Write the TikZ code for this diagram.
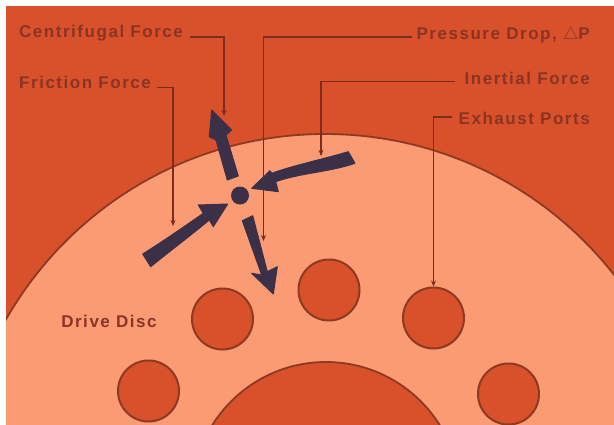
\documentclass[tikz,border=0pt]{standalone}
\usepackage{fontspec}
\setmainfont[LetterSpace=9]{Liberation Sans}
\usetikzlibrary{arrows.meta}
\definecolor{redbg}{HTML}{D9512B}
\definecolor{discfill}{HTML}{FA9B73}
\definecolor{edgecol}{HTML}{8C3A22}
\definecolor{leadcol}{HTML}{7A2C1E}
\definecolor{forcecol}{HTML}{3B3047}
\definecolor{labelcol}{HTML}{8A3424}
\tikzset{
  port/.style={circle,draw=edgecol,fill=redbg,line width=2pt,minimum size=61pt,inner sep=0pt},
  lbl/.style={inner sep=0pt,text=labelcol,font=\fontsize{17}{19}\selectfont\bfseries},
  leader/.style={draw=leadcol,line width=1.5pt,-{Stealth[length=6pt,width=5pt]}},
  force/.style={fill=forcecol,draw=forcecol,line width=1pt,line join=round},
  rim/.style={draw=edgecol,line width=1.8pt,fill=discfill}
}
\begin{document}
\begin{tikzpicture}[x=1pt,y=-1pt]
\useasboundingbox (0,0) rectangle (614,424);
\fill[white] (0,0) rectangle (614,424);
\begin{scope}
\clip (6,6) rectangle (614,424);
\fill[redbg] (6,6) rectangle (614,424);
\draw[rim] (325,501) circle[radius=367];
\draw[edgecol,line width=1.8pt,fill=redbg] (326,496) circle[radius=134];
\end{scope}
\node[port] (p1) at (222.5,319) {};
\node[port] (p2) at (148.5,391) {};
\node[port] (p3) at (329,290) {};
\node[port] (p4) at (433.5,318) {};
\node[port] (p5) at (508.5,394) {};
\node[circle,fill=forcecol,minimum size=18pt,inner sep=0pt] (dot) at (240,195.5) {};
% leader ends
\coordinate (cfend) at (224,116);
\coordinate (ffend) at (173,226);
\coordinate (pdend) at (263.5,241);
\coordinate (infend) at (321,156);
% labels
\node[lbl,anchor=west] (cf) at (19,33) {Centrifugal Force};
\node[lbl,anchor=west] (ff) at (19,82) {Friction Force};
\node[lbl,anchor=east] (pd) at (590,35) {Pressure Drop, $\triangle$P};
\node[lbl,anchor=east] (inf) at (590,78) {Inertial Force};
\node[lbl,anchor=east] (ep) at (590,118) {Exhaust Ports};
\node[lbl,anchor=center] (dd) at (109,321) {Drive Disc};
% leaders
\draw[leader] ([shift={(7,4)}]cf.east) -| (cfend);
\draw[leader] ([shift={(6,5.5)}]ff.east) -| (ffend);
\draw[leader] ([shift={(-4,2)}]pd.west) -| (pdend);
\draw[leader] ([shift={(-9,3.5)}]inf.west) -| (infend);
\draw[leader] ([shift={(-6,-1)}]ep.west) -| (p4.north);
% force arrows
\draw[force] (227.3,180) -- (216,140) -- (209.3,136.7) -- (211.7,110) -- (231.7,130) -- (226,135) -- (238.3,176) -- cycle;
\draw[force] (348.3,151.7) .. controls (320,160) and (295,165) .. (271.7,173.3) -- (270,170.7) -- (251.7,188.3) -- (278.3,191.7) -- (275.7,181.7) .. controls (300,173) and (330,172) .. (355,163.3) -- cycle;
\draw[force] (142.7,254) .. controls (165,240) and (185,226) .. (203.3,213.3) -- (198.3,205) -- (227.7,204) -- (213.3,226.7) -- (209.3,220) .. controls (190,236) and (170,251) .. (150.7,266.7) -- cycle;
\draw[force] (242.3,220.7) -- (261.7,275) -- (251.7,273.3) -- (273.3,294) -- (277.3,266.7) -- (267.3,271.7) -- (252.7,215.7) -- cycle;
\end{tikzpicture}
\end{document}
